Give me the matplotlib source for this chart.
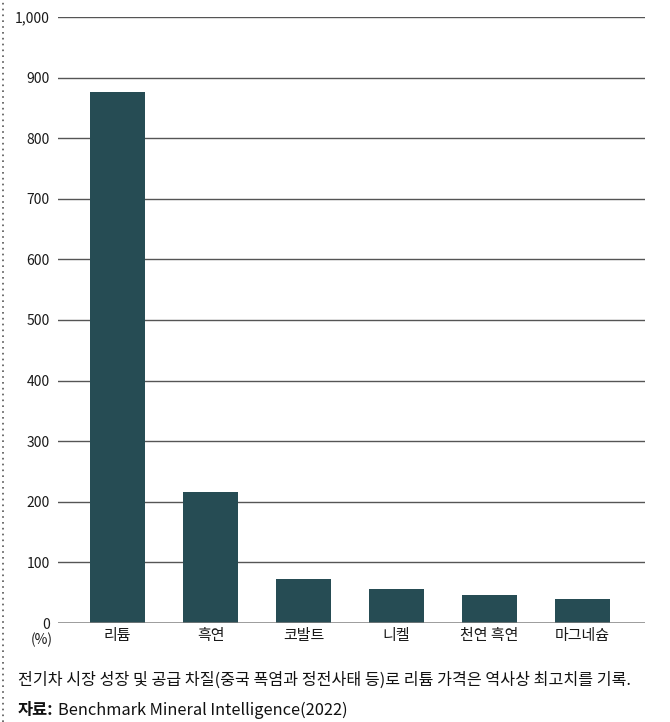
import matplotlib
matplotlib.use("Agg")
import matplotlib.pyplot as plt
from matplotlib.lines import Line2D

plt.rcParams["font.family"] = ["Noto Sans CJK KR", "DejaVu Sans"]

minerals = ["리튬", "흑연", "코발트", "니켈", "천연 흑연", "마그네슘"]
price_change = [876, 216, 73, 56, 46, 40]
y_ticks = [0, 100, 200, 300, 400, 500, 600, 700, 800, 900, 1000]
y_tick_labels = ["0", "100", "200", "300", "400", "500", "600", "700", "800", "900", "1,000"]

caption = "전기차 시장 성장 및 공급 차질(중국 폭염과 정전사태 등)로 리튬 가격은 역사상 최고치를 기록."
source_label = "자료:"
source_text = "Benchmark Mineral Intelligence(2022)"

BAR_COLOR = "#264c54"
GRID_COLOR = "#555555"

fig = plt.figure(figsize=(6.70, 7.22), dpi=100)
ax = fig.add_axes([0.0866, 0.1371, 0.876, 0.8394])

x = list(range(len(minerals)))
ax.bar(x, price_change, width=0.59, color=BAR_COLOR, zorder=3)

ax.set_xlim(-0.64, 5.67)
ax.set_ylim(0, 1000)
ax.set_yticks(y_ticks)
ax.set_yticklabels(y_tick_labels)
ax.set_xticks(x)
ax.set_xticklabels(minerals)

for t in y_ticks[1:]:
    ax.axhline(t, color=GRID_COLOR, linewidth=1.0, zorder=1)
ax.axhline(0, color="#808080", linewidth=1.8, zorder=4)

for side in ["top", "right", "left", "bottom"]:
    ax.spines[side].set_visible(False)
ax.tick_params(axis="y", length=0, pad=6, labelsize=10, labelcolor="#1a1a1a")
ax.tick_params(axis="x", length=0, pad=4, labelsize=10.8, labelcolor="#1a1a1a")

fig.text(0.063, 1 - 640 / 722, "(%)", ha="center", va="center", fontsize=10, color="#1a1a1a")

fig.text(18 / 670, 1 - 680 / 722, caption, ha="left", va="center", fontsize=11.6, color="#111111")
src = fig.text(18 / 670, 1 - 710 / 722, source_label, ha="left", va="center",
               fontsize=11.8, fontweight="bold", color="#111111")
fig.canvas.draw()
bb = src.get_window_extent()
fig.text((bb.x1 + 5) / 670, 1 - 710 / 722, source_text, ha="left", va="center",
         fontsize=11.8, color="#111111")

# dotted border on the left edge
fig.add_artist(Line2D([2.5 / 670, 2.5 / 670], [0, 1], transform=fig.transFigure,
                      color="#555555", linewidth=1.2, linestyle=(0, (1, 2.5))))

fig.savefig("out.png", dpi=100, facecolor="white")
